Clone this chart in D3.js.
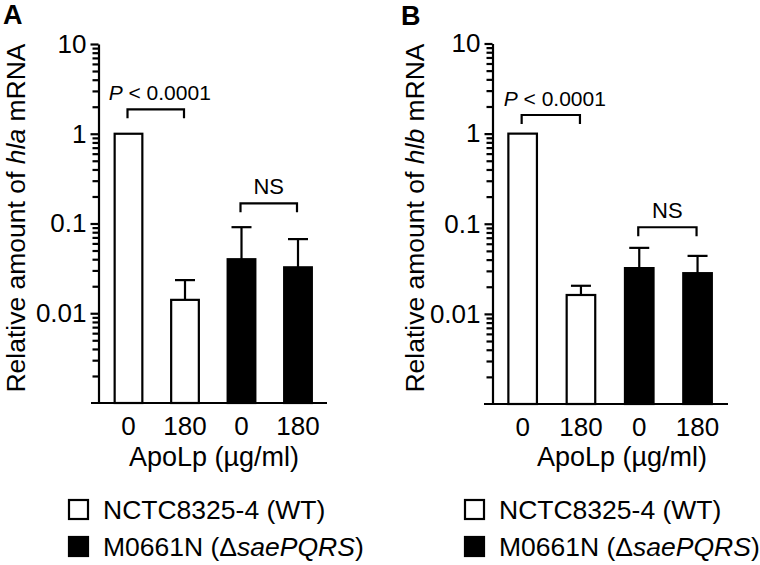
<!DOCTYPE html>
<html><head><meta charset="utf-8">
<script src="https://cdn.jsdelivr.net/npm/d3@7"></script>
<style>
html,body{margin:0;padding:0;background:#fff;}
svg text{font-family:"Liberation Sans",Arial,Helvetica,sans-serif;fill:#000;}
</style></head><body>
<svg id="chart" width="760" height="565"></svg>
<script>
// ---- data ----
const categories = ["0", "180", "0", "180"];
const barStrain = [0, 0, 1, 1];                 // 0 = WT (white), 1 = mutant (black)
const strainNames = ["NCTC8325-4 (WT)", "M0661N (ΔsaePQRS)"];
const hlaMean  = [1, 0.0141, 0.040, 0.0325];
const hlaUpper = [null, 0.0234, 0.091, 0.067];
const hlbMean  = [1, 0.0162, 0.0322, 0.0283];
const hlbUpper = [null, 0.0205, 0.054, 0.044];
const yMajorTicks  = [0.01, 0.1, 1, 10];
const yMajorLabels = ["0.01", "0.1", "1", "10"];
const yDomain = [0.001, 10];
const sigLabels = ["P < 0.0001", "NS"];
const hlaBrackets = [{from: 0, to: 1, level: 1.87, label: 0}, {from: 2, to: 3, level: 0.168, label: 1}];
const hlbBrackets = [{from: 0, to: 1, level: 1.61, label: 0}, {from: 2, to: 3, level: 0.0914, label: 1}];
const xTitle = "ApoLp (µg/ml)";

// minor tick values (2..9 x each decade)
const yMinorTicks = [];
for (let e = -3; e <= 0; e++) for (let m = 2; m <= 9; m++) yMinorTicks.push(m * Math.pow(10, e));

const panels = [
  {letter: "A", letterX: 3, letterY: 24, gene: "hla", mean: hlaMean, upper: hlaUpper, brackets: hlaBrackets,
   axisX: 98.5, line: [91, 327], yRange: [403, 44], band: [100.25, 326.25],
   titleX: 25, titleY: 218, xTitleX: 214, legendX: 69},
  {letter: "B", letterX: 401, letterY: 25, gene: "hlb", mean: hlbMean, upper: hlbUpper, brackets: hlbBrackets,
   axisX: 492.5, line: [484, 728], yRange: [404, 43.5], band: [493.5, 726.7],
   titleX: 424, titleY: 218, xTitleX: 622, legendX: 465}
];

const svg = d3.select("#chart");
svg.append("rect").attr("width", 760).attr("height", 565).attr("fill", "#fff");

const SW = 2.2;

panels.forEach(p => {
  const g = svg.append("g");
  const y = d3.scaleLog().domain(yDomain).range(p.yRange);
  const x = d3.scaleBand().domain(d3.range(categories.length)).range(p.band)
    .paddingInner(0.51).paddingOuter(0.255);

  // panel letter
  g.append("text").attr("x", p.letterX).attr("y", p.letterY)
    .attr("font-size", 27).attr("font-weight", "bold").text(p.letter);

  // bars
  g.selectAll("rect.bar").data(p.mean).join("rect").attr("class", "bar")
    .attr("x", (d, i) => x(i)).attr("width", x.bandwidth())
    .attr("y", d => y(d)).attr("height", d => y(yDomain[0]) - y(d))
    .attr("fill", (d, i) => barStrain[i] ? "#000" : "#fff")
    .attr("stroke", "#000").attr("stroke-width", SW);

  // error bars
  const errs = p.upper.map((u, i) => ({u, i})).filter(e => e.u != null);
  const capW = 20;
  errs.forEach(e => {
    const cx = x(e.i) + x.bandwidth() / 2;
    g.append("line").attr("x1", cx).attr("x2", cx)
      .attr("y1", y(p.mean[e.i])).attr("y2", y(e.u))
      .attr("stroke", "#000").attr("stroke-width", SW);
    g.append("line").attr("x1", cx - capW / 2).attr("x2", cx + capW / 2)
      .attr("y1", y(e.u)).attr("y2", y(e.u))
      .attr("stroke", "#000").attr("stroke-width", SW);
  });

  // y axis: minor ticks
  const minorAx = d3.axisLeft(y).tickValues(yMinorTicks).tickSize(6).tickFormat("");
  const gMin = g.append("g").attr("transform", `translate(${p.axisX},0)`).call(minorAx);
  gMin.select(".domain").remove();
  gMin.selectAll("line").attr("stroke-width", SW);

  // y axis: major ticks + labels
  const majorAx = d3.axisLeft(y).tickValues(yMajorTicks).tickSize(8).tickSizeOuter(0)
    .tickPadding(4).tickFormat((d, i) => yMajorLabels[i]);
  const gMaj = g.append("g").attr("transform", `translate(${p.axisX},0)`).call(majorAx);
  gMaj.select(".domain").attr("stroke-width", SW);
  gMaj.selectAll("line").attr("stroke-width", SW);
  gMaj.attr("font-family", null).attr("font-size", null);
  gMaj.selectAll("text").attr("font-size", 26);

  // x axis baseline
  g.append("line").attr("x1", p.line[0]).attr("x2", p.line[1])
    .attr("y1", y(yDomain[0])).attr("y2", y(yDomain[0]))
    .attr("stroke", "#000").attr("stroke-width", SW);

  // x tick labels
  const xAx = d3.axisBottom(x).tickSize(0).tickPadding(14).tickFormat(i => categories[i]);
  const gx = g.append("g").attr("transform", `translate(0,${y(yDomain[0])})`).call(xAx);
  gx.select(".domain").remove();
  gx.attr("font-family", null).attr("font-size", null);
  gx.selectAll("text").attr("font-size", 26);

  // x title
  g.append("text").attr("x", p.xTitleX).attr("y", 466).attr("text-anchor", "middle")
    .attr("font-size", 27).text(xTitle);

  // y title
  const yt = g.append("text").attr("transform", `translate(${p.titleX},${p.titleY}) rotate(-90)`)
    .attr("text-anchor", "middle").attr("font-size", 26.5);
  yt.append("tspan").text("Relative amount of ");
  yt.append("tspan").attr("font-style", "italic").text(p.gene);
  yt.append("tspan").text(" mRNA");

  // significance brackets
  p.brackets.forEach(b => {
    const x0 = x(b.from) + x.bandwidth() / 2 - 1;
    const x1 = x(b.to) + x.bandwidth() / 2 - 1;
    const yy = y(b.level);
    g.append("path").attr("d", `M${x0},${yy + 9}V${yy}H${x1}V${yy + 9}`)
      .attr("fill", "none").attr("stroke", "#000").attr("stroke-width", SW);
    const t = g.append("text").attr("x", (x0 + x1) / 2 + (b.label === 0 ? 4 : 0)).attr("y", yy - 9)
      .attr("text-anchor", "middle").attr("font-size", b.label === 0 ? 21 : 22);
    if (b.label === 0) {
      t.append("tspan").attr("font-style", "italic").text("P");
      t.append("tspan").text(sigLabels[0].slice(1));
    } else {
      t.text(sigLabels[1]);
    }
  });

  // legend
  const legRows = [519, 556];
  strainNames.forEach((name, si) => {
    g.append("rect").attr("x", p.legendX).attr("y", legRows[si] - 19).attr("width", 19).attr("height", 19)
      .attr("fill", si ? "#000" : "#fff").attr("stroke", "#000").attr("stroke-width", SW);
    const t = g.append("text").attr("x", p.legendX + 34).attr("y", legRows[si]).attr("font-size", 26.5);
    if (si === 0) {
      t.text(name);
    } else {
      t.append("tspan").text("M0661N (Δ");
      t.append("tspan").attr("font-style", "italic").text("saePQRS");
      t.append("tspan").text(")");
    }
  });
});
</script>
</body></html>
